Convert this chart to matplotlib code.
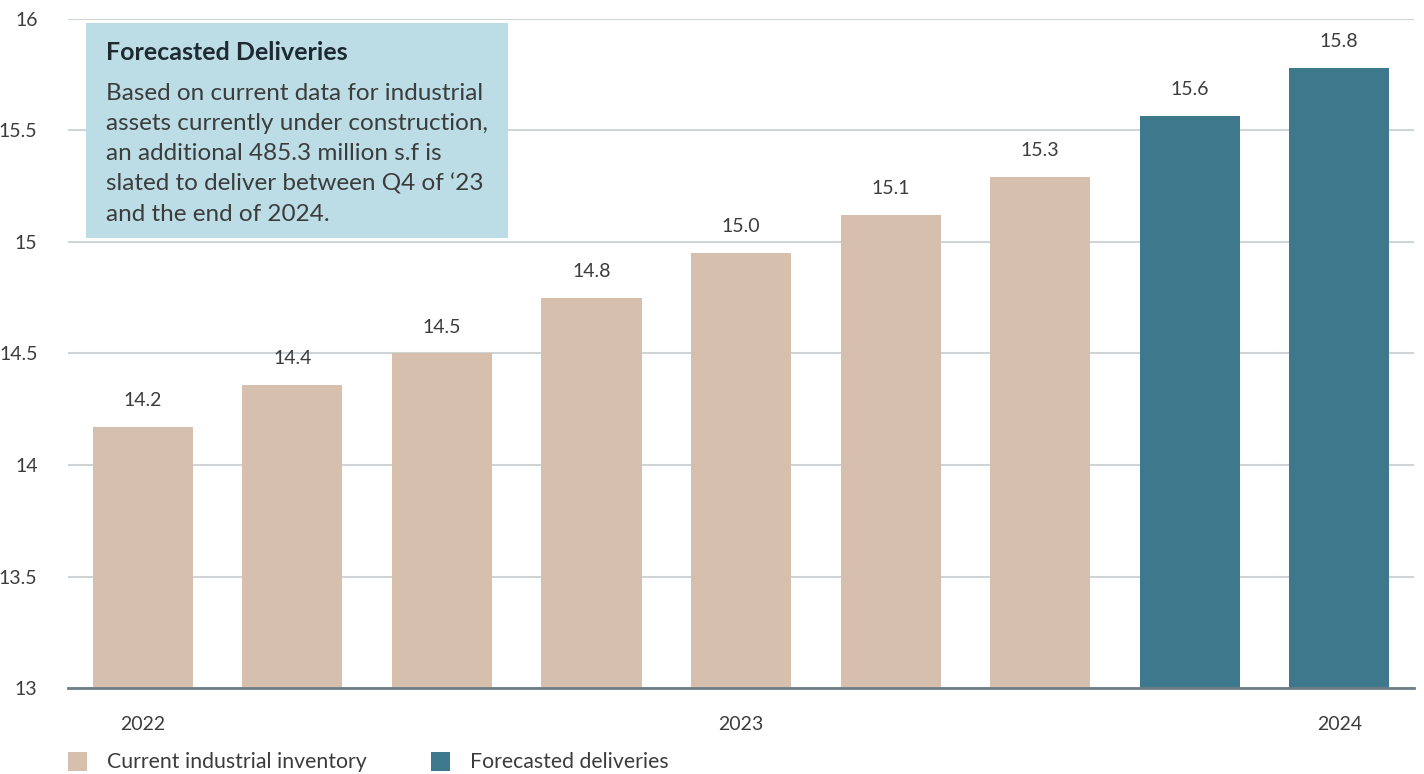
import numpy as np
import matplotlib.pyplot as plt
from matplotlib.patches import Rectangle

plt.rcParams['font.family'] = ['Lato', 'DejaVu Sans']

# data
values = [14.17, 14.36, 14.50, 14.75, 14.95, 15.12, 15.29, 15.565, 15.78]
labels = ['14.2', '14.4', '14.5', '14.8', '15.0', '15.1', '15.3', '15.6', '15.8']
is_forecast = [False] * 7 + [True] * 2
year_pos = [0, 4, 8]
year_labels = ['2022', '2023', '2024']

c_inv = '#d7bfad'
c_fc = '#3e788d'
txt = '#3c3c3c'

fig = plt.figure(figsize=(14.24, 7.74), dpi=100)
ax = fig.add_axes([0.0478, 0.1111, 0.9452, 0.8644])

x = np.arange(len(values))
colors = [c_fc if f else c_inv for f in is_forecast]
ax.bar(x, np.array(values) - 13, bottom=13, width=0.67, color=colors, zorder=3)

for xi, v, lab in zip(x, values, labels):
    ax.text(xi, v + 0.08, lab, ha='center', va='bottom', fontsize=14,
            color=txt)

ax.set_ylim(13, 16)
ax.set_xlim(-0.5, len(values) - 0.5)
ax.set_yticks(np.arange(13, 16.01, 0.5))
ax.set_yticklabels(['13', '13.5', '14', '14.5', '15', '15.5', '16'])
ax.yaxis.grid(True, color='#cfd4d7', linewidth=1.5, zorder=0)
ax.set_xticks(year_pos)
ax.set_xticklabels(year_labels)
ax.tick_params(axis='both', length=0, labelsize=14, labelcolor=txt)
ax.tick_params(axis='y', pad=22)
ax.tick_params(axis='x', pad=20)
for s in ['top', 'right', 'left']:
    ax.spines[s].set_visible(False)
ax.spines['bottom'].set_color('#6e7d86')
ax.spines['bottom'].set_linewidth(2)
ax.spines['bottom'].set_zorder(4)

# annotation box
box = Rectangle((86 / 1424, 1 - 238 / 774), (508 - 86) / 1424, (238 - 23) / 774,
                transform=fig.transFigure, facecolor='#bcdde5', edgecolor='none', zorder=5)
fig.patches.append(box)
fig.text(106 / 1424, 1 - 53 / 774, 'Forecasted Deliveries', fontsize=18,
         fontweight='bold', color='#1e2a32', va='center', zorder=6)
body = ("Based on current data for industrial\n"
        "assets currently under construction,\n"
        "an additional 485.3 million s.f is\n"
        "slated to deliver between Q4 of \u201823\n"
        "and the end of 2024.")
fig.text(106 / 1424, 1 - 83 / 774, body, fontsize=17.5,
         color=txt, va='top', linespacing=1.53, zorder=6)

# legend
fig.patches.append(Rectangle((68 / 1424, 1 - 771 / 774), 19 / 1424, 19 / 774,
                             transform=fig.transFigure, facecolor=c_inv, edgecolor='none'))
fig.text(107 / 1424, 1 - 762 / 774, 'Current industrial inventory', fontsize=15.3,
         color=txt, va='center')
fig.patches.append(Rectangle((431 / 1424, 1 - 771 / 774), 19 / 1424, 19 / 774,
                             transform=fig.transFigure, facecolor=c_fc, edgecolor='none'))
fig.text(470 / 1424, 1 - 762 / 774, 'Forecasted deliveries', fontsize=15.3,
         color=txt, va='center')

fig.savefig('out.png', dpi=100)
